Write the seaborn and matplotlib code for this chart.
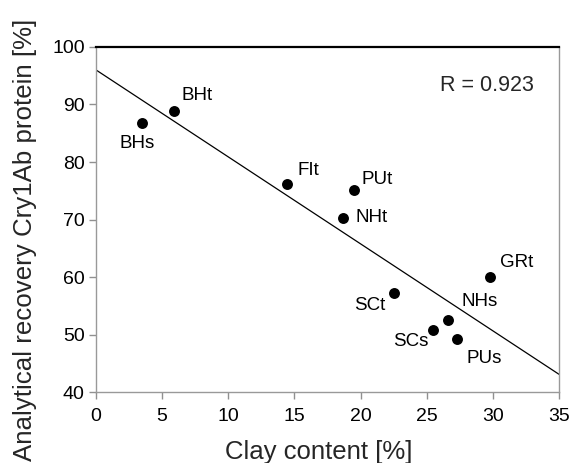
import matplotlib
matplotlib.use("Agg")
import matplotlib.pyplot as plt
import seaborn as sns
import numpy as np
import pandas as pd

# Data
sites = ["BHs", "BHt", "FIt", "PUt", "NHt", "GRt", "SCt", "NHs", "SCs", "PUs"]
clay = [3.5, 5.87, 14.43, 19.52, 18.69, 29.82, 22.5, 26.6, 25.5, 27.3]
recovery = [86.85, 88.87, 76.17, 75.1, 70.3, 59.95, 57.3, 52.6, 50.8, 49.2]
x_ticks = [0, 5, 10, 15, 20, 25, 30, 35]
y_ticks = [40, 50, 60, 70, 80, 90, 100]

# label offsets (points) and alignment
offsets = {
    "BHs": (-3.5, -15, "center"),
    "BHt": (6, 11.5, "left"),
    "FIt": (8, 10, "left"),
    "PUt": (5, 8, "left"),
    "NHt": (8.5, 0, "left"),
    "GRt": (6.5, 11, "left"),
    "SCt": (-6, -9.5, "right"),
    "NHs": (9.5, 13, "left"),
    "SCs": (-3.5, -8.5, "right"),
    "PUs": (7, -14, "left"),
}

df = pd.DataFrame({"site": sites, "clay": clay, "recovery": recovery})

sns.set_style("ticks")
plt.rcParams["font.family"] = ["Liberation Sans", "DejaVu Sans"]

fig = plt.figure(figsize=(5.73, 4.63), dpi=100)
ax = fig.add_axes([0.1675, 0.1533, 0.8081, 0.7452])
ax.set_xlim(0, 35)
ax.set_ylim(40, 100)

sns.regplot(data=df, x="clay", y="recovery", ax=ax, scatter=False, ci=None,
            truncate=False, line_kws={"color": "black", "linewidth": 0.9})
sns.scatterplot(data=df, x="clay", y="recovery", ax=ax, color="black",
                s=62, edgecolor="black", linewidth=0, zorder=3)

for s, xv, yv in zip(sites, clay, recovery):
    dx, dy, ha = offsets[s]
    ax.annotate(s, (xv, yv), xytext=(dx, dy), textcoords="offset points",
                ha=ha, va="center", fontsize=13.5, color="black")

r = np.corrcoef(clay, recovery)[0, 1]
ax.text(26.0, 93.3, f"R = {abs(r):.3f}", fontsize=15.5, ha="left", va="center")

ax.set_xticks(x_ticks)
ax.set_yticks(y_ticks)
ax.tick_params(axis="both", labelsize=14, color="#909090", length=5, width=1,
               direction="out", labelcolor="black", pad=3)
ax.tick_params(axis="x", pad=6.5)
for side in ["left", "bottom", "right"]:
    ax.spines[side].set_visible(True)
    ax.spines[side].set_color("#999999")
    ax.spines[side].set_linewidth(1.0)
ax.spines["top"].set_visible(True)
ax.spines["top"].set_color("black")
ax.spines["top"].set_linewidth(1.6)

ax.set_xlabel("Clay content [%]", fontsize=18.5)
ax.set_ylabel("Analytical recovery Cry1Ab protein [%]", fontsize=18.6)
ax.xaxis.set_label_coords(0.4806, -0.14)
ax.yaxis.set_label_coords(-0.127, 0.44)

fig.savefig("out.png", dpi=100)
